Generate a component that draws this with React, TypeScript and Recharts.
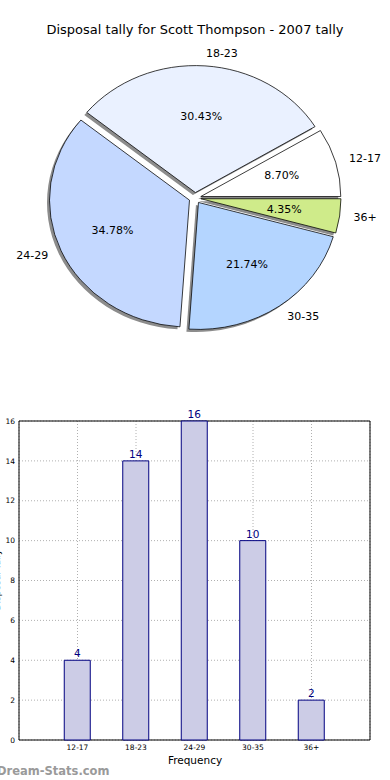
import React from "react";
import {
  PieChart,
  Pie,
  Cell,
  BarChart,
  Bar,
  XAxis,
  YAxis,
  CartesianGrid,
  LabelList,
  ReferenceArea,
} from "recharts";

const ageGroups = ["12-17", "18-23", "24-29", "30-35", "36+"];
const pieShares = [2, 7, 8, 5, 1];
const frequencies = [4, 14, 16, 10, 2];
const sliceColors = ["#ffffff", "#eaf1ff", "#c4d8ff", "#b4d5ff", "#cfeb8a"];
const yTicks = [0, 2, 4, 6, 8, 10, 12, 14, 16];
const xTicks = [1, 2, 3, 4, 5];

const FONT = "'DejaVu Sans', sans-serif";
const CX = 195; // pie centre
const CY = 198;
const R = 140;
const K = 0.907; // pie is drawn slightly squashed, like the original
const EXPLODE = 6;
const NO_MARGIN = { top: 0, right: 0, bottom: 0, left: 0 };

const pieData = ageGroups.map((name, i) => ({ name, value: pieShares[i] }));
const barData = ageGroups.map((name, i) => ({ pos: i + 1, name, value: frequencies[i] }));

// mid angle of each slice, counter-clockwise from 3 o'clock
const total = pieShares.reduce((a, b) => a + b, 0);
const midAngles: number[] = [];
let acc = 0;
pieShares.forEach((v) => {
  midAngles.push(((acc + v / 2) / total) * 360);
  acc += v;
});

const renderPieLabel = (props: any) => {
  const { cx, cy, midAngle, percent, name } = props;
  const rad = (midAngle * Math.PI) / 180;
  const c = Math.cos(rad);
  const s = Math.sin(rad);
  const nx = cx + (1.1 * R + EXPLODE) * c;
  const ny = cy - K * (1.1 * R + EXPLODE) * s;
  const px = cx + (0.6 * R + EXPLODE) * c;
  const py = cy - K * (0.6 * R + EXPLODE) * s;
  return (
    <g>
      <text x={nx} y={ny} textAnchor={c >= 0 ? "start" : "end"} dominantBaseline="central" fontSize={11} fontFamily={FONT} fill="#000">
        {name}
      </text>
      <text x={px} y={py} textAnchor="middle" dominantBaseline="central" fontSize={11} fontFamily={FONT} fill="#000">
        {(percent * 100).toFixed(2)}%
      </text>
    </g>
  );
};

const sliceLayer = (i: number, shadow: boolean) => {
  const rad = (midAngles[i] * Math.PI) / 180;
  let x = CX + EXPLODE * Math.cos(rad);
  let y = CY - EXPLODE * Math.sin(rad);
  if (shadow) {
    x -= 2.5;
    y += 2.5 / K;
  }
  return (
    <Pie
      key={(shadow ? "s" : "w") + i}
      data={pieData}
      dataKey="value"
      nameKey="name"
      cx={x}
      cy={y}
      outerRadius={R}
      startAngle={0}
      endAngle={360}
      isAnimationActive={false}
      labelLine={false}
    >
      {pieData.map((d, j) => (
        <Cell
          key={d.name}
          fill={j !== i ? "none" : shadow ? "#8c8c8c" : sliceColors[j]}
          stroke={j !== i || shadow ? "none" : "#000"}
          strokeWidth={0.8}
        />
      ))}
    </Pie>
  );
};

export default function App() {
  return (
    <div style={{ position: "absolute", top: 0, left: 0, width: 390, height: 780, background: "#fff" }}>
      {/* wedges, squashed vertically around the pie centre */}
      <div style={{ position: "absolute", top: 0, left: 0, transform: `scaleY(${K})`, transformOrigin: `0px ${CY}px` }}>
        <PieChart width={390} height={390} margin={NO_MARGIN}>
          {ageGroups.map((_, i) => [sliceLayer(i, true), sliceLayer(i, false)])}
        </PieChart>
      </div>
      {/* labels, unsquashed */}
      <div style={{ position: "absolute", top: 0, left: 0 }}>
        <PieChart width={390} height={390} margin={NO_MARGIN}>
          <Pie
            data={pieData}
            dataKey="value"
            nameKey="name"
            cx={CX}
            cy={CY}
            outerRadius={R}
            startAngle={0}
            endAngle={360}
            isAnimationActive={false}
            labelLine={false}
            label={renderPieLabel}
          >
            {pieData.map((d) => (
              <Cell key={d.name} fill="none" stroke="none" />
            ))}
          </Pie>
        </PieChart>
      </div>
      <div style={{ position: "absolute", top: 390, left: 0 }}>
        <BarChart width={390} height={390} data={barData} margin={{ top: 31, right: 20, bottom: 15, left: 0 }}>
          <CartesianGrid stroke="#b0b0b0" strokeDasharray="1 2" />
          <XAxis
            type="number"
            dataKey="pos"
            domain={[0, 6]}
            ticks={xTicks}
            interval={0}
            tickFormatter={(v) => ageGroups[v - 1]}
            height={25}
            axisLine={false}
            tickLine={false}
            tickSize={2}
            tickMargin={3}
            tick={{ fontSize: 7.5, fill: "#000", fontFamily: FONT }}
          />
          <YAxis
            type="number"
            domain={[0, 16]}
            ticks={yTicks}
            interval={0}
            width={19}
            axisLine={false}
            tickLine={false}
            tickSize={2}
            tickMargin={2}
            tick={{ fontSize: 7.5, fill: "#000", fontFamily: FONT }}
          />
          <ReferenceArea x1={0} x2={6} y1={0} y2={16} fill="none" fillOpacity={0} stroke="#000" strokeWidth={1} />
          <Bar dataKey="value" barSize={26} fill="#ccccE6" stroke="#000080" strokeWidth={1} isAnimationActive={false}>
            <LabelList dataKey="value" position="top" offset={3} fill="#000080" fontSize={10.5} fontFamily={FONT} />
          </Bar>
        </BarChart>
      </div>
      <svg width={390} height={780} style={{ position: "absolute", top: 0, left: 0, pointerEvents: "none" }}>
        <text x={195} y={34} textAnchor="middle" fontSize={13} fontFamily={FONT} fill="#000">
          Disposal tally for Scott Thompson - 2007 tally
        </text>
        <text x={195} y={764} textAnchor="middle" fontSize={10.5} fontFamily={FONT} fill="#000">
          Frequency
        </text>
        <text x={0} y={580} textAnchor="middle" fontSize={9} fontFamily={FONT} fill="#000" transform="rotate(-90 0 580)">
          Disposal Tally
        </text>
        <text x={-3} y={775} fontSize={11.5} fontFamily={FONT} fill="#9a9a9a" fontWeight="bold">
          Dream-Stats.com
        </text>
      </svg>
    </div>
  );
}
